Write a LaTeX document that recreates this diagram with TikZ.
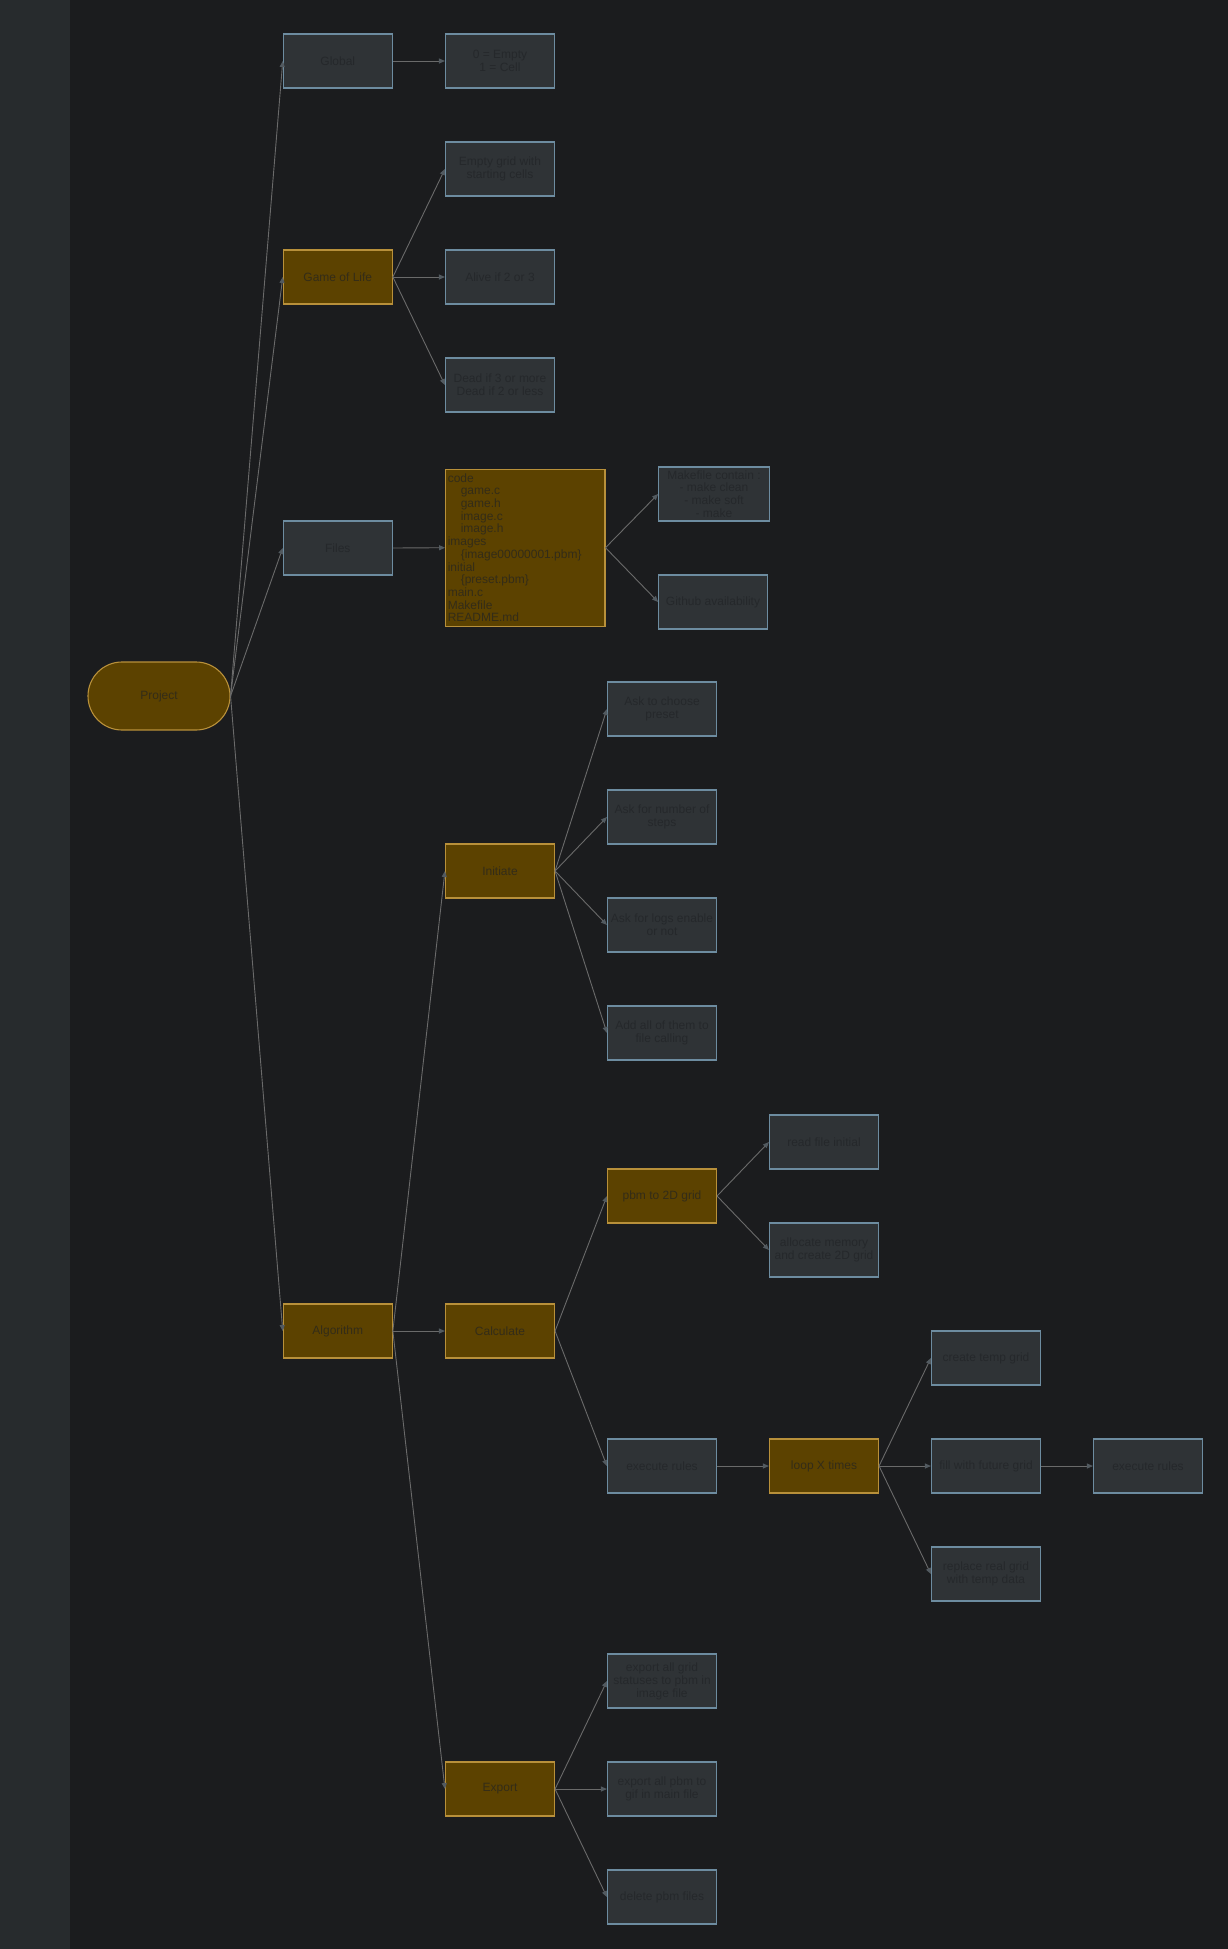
\documentclass[tikz,border=0pt]{standalone}
\usepackage{fontspec}
\setmainfont{Liberation Sans}
\usetikzlibrary{arrows.meta}
\definecolor{bgc}{HTML}{1B1C1E}
\definecolor{sidec}{HTML}{272B2D}
\definecolor{grayfill}{HTML}{2F3336}
\definecolor{grayline}{HTML}{6D8CA0}
\definecolor{grytext}{HTML}{25282B}
\definecolor{orgfill}{HTML}{5C4200}
\definecolor{orgline}{HTML}{B8903A}
\definecolor{orgtext}{HTML}{332C18}
\definecolor{edgec}{HTML}{6A6A6A}
\definecolor{tipc}{HTML}{525A60}
\tikzset{
  box/.style={rectangle, inner sep=2pt, minimum width=109pt, minimum height=54pt,
    align=center, line width=1.1pt, font=\fontsize{12}{13}\selectfont},
  graybox/.style={box, draw=grayline, fill=grayfill, text=grytext},
  orangebox/.style={box, draw=orgline, fill=orgfill, text=orgtext},
  edge/.style={draw=edgec, line width=0.9pt,
    -{Triangle[length=6pt,width=5pt,color=tipc]}},
}
\begin{document}
\begin{tikzpicture}[x=1pt,y=-1pt]
\useasboundingbox (0,0) rectangle (1228,1949);
\fill[bgc] (0,0) rectangle (1228,1949);
\fill[sidec] (0,0) rectangle (70,1949);

% root
\node[orangebox, minimum width=142pt, minimum height=68pt, rounded corners=34pt] (project) at (159,696) {Project};

% first level
\node[graybox] (global) at (337.8,61) {Global};
\node[orangebox] (gol) at (337.8,277) {Game of Life};
\node[graybox] (files) at (337.8,548) {Files};
\node[orangebox] (algo) at (337.8,1331) {Algorithm};

% global
\node[graybox] (cellval) at (500,61) {0 = Empty\\1 = Cell};

% game of life rules
\node[graybox] (emptygrid) at (500,169) {Empty grid with\\starting cells};
\node[graybox] (alive) at (500,277) {Alive if 2 or 3};
\node[graybox] (dead) at (500,385) {Dead if 3 or more\\Dead if 2 or less};

% file tree
\node[orangebox, minimum width=159.3pt, minimum height=156.7pt, text width=155pt,
  align=left, font=\fontsize{12}{12.7}\selectfont] (tree) at (525.3,547.7)
  {code\\
   \hspace*{13pt}game.c\\
   \hspace*{13pt}game.h\\
   \hspace*{13pt}image.c\\
   \hspace*{13pt}image.h\\
   images\\
   \hspace*{13pt}\{image00000001.pbm\}\\
   initial\\
   \hspace*{13pt}\{preset.pbm\}\\
   main.c\\
   Makefile\\
   README.md};
\node[graybox, minimum width=110.6pt, font=\fontsize{12}{12.7}\selectfont] (makefile) at (714,494)
  {Makefile contain :\\- make clean\\- make soft\\- make};
\node[graybox, minimum width=108.6pt] (github) at (713,602) {Github availability};

% algorithm
\node[orangebox] (initiate) at (500,871) {Initiate};
\node[orangebox] (calc) at (500,1331) {Calculate};
\node[orangebox] (export) at (500,1789) {Export};

\node[graybox] (ask1) at (662,709) {Ask to choose\\preset};
\node[graybox] (ask2) at (662,817) {Ask for number of\\steps};
\node[graybox] (ask3) at (662,925) {Ask for logs enable\\or not};
\node[graybox] (ask4) at (662,1033) {Add all of them to\\file calling};

\node[orangebox] (pbm) at (662,1196) {pbm to 2D grid};
\node[graybox] (readfile) at (824,1142) {read file initial};
\node[graybox] (alloc) at (824,1250) {allocate memory\\and create 2D grid};

\node[graybox] (exec1) at (662,1466) {execute rules};
\node[orangebox] (loop) at (824,1466) {loop X times};
\node[graybox] (temp) at (986,1358) {create temp grid};
\node[graybox] (fill) at (986,1466) {fill with future grid};
\node[graybox] (replace) at (986,1574) {replace real grid\\with temp data};
\node[graybox] (exec2) at (1148,1466) {execute rules};

\node[graybox] (exp1) at (662,1681) {export all grid\\statuses to pbm in\\image file};
\node[graybox] (exp2) at (662,1789) {export all pbm to\\gif in main file};
\node[graybox] (exp3) at (662,1897) {delete pbm files};

% connectors
\foreach \c in {global,gol,files,algo} \draw[edge] (project.east) -- (\c.west);
\draw[edge] (global.east) -- (cellval.west);
\foreach \c in {emptygrid,alive,dead} \draw[edge] (gol.east) -- (\c.west);
\draw[edge] (files.east) -- (tree.west);
\foreach \c in {makefile,github} \draw[edge] (tree.east) -- (\c.west);
\foreach \c in {initiate,calc,export} \draw[edge] (algo.east) -- (\c.west);
\foreach \c in {ask1,ask2,ask3,ask4} \draw[edge] (initiate.east) -- (\c.west);
\foreach \c in {pbm,exec1} \draw[edge] (calc.east) -- (\c.west);
\foreach \c in {readfile,alloc} \draw[edge] (pbm.east) -- (\c.west);
\draw[edge] (exec1.east) -- (loop.west);
\foreach \c in {temp,fill,replace} \draw[edge] (loop.east) -- (\c.west);
\draw[edge] (fill.east) -- (exec2.west);
\foreach \c in {exp1,exp2,exp3} \draw[edge] (export.east) -- (\c.west);
\end{tikzpicture}
\end{document}
